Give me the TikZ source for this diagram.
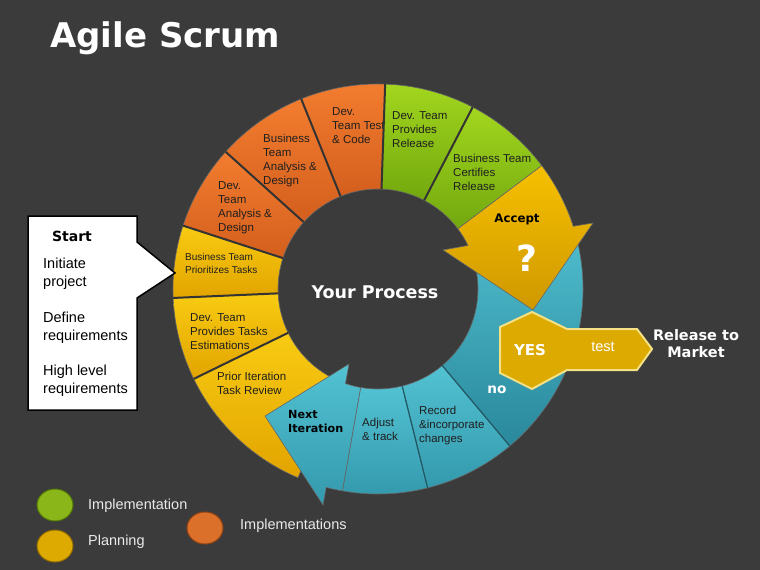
\documentclass[tikz,border=0pt]{standalone}
\usepackage{fontspec}
\setmainfont{Liberation Sans}
\newfontfamily\heavyfont{DejaVu Sans}
\usetikzlibrary{calc}

\definecolor{bgdark}{HTML}{3B3B3B}
\definecolor{orgtop}{HTML}{F27C2E}
\definecolor{orgbot}{HTML}{D45F1E}
\definecolor{grntop}{HTML}{A2D61E}
\definecolor{grnbot}{HTML}{72A80E}
\definecolor{yeltop}{HTML}{F8CB12}
\definecolor{yelbot}{HTML}{E2A400}
\definecolor{teltop}{HTML}{52C2D2}
\definecolor{telbot}{HTML}{3499AD}
\definecolor{teldark}{HTML}{2A889C}
\definecolor{telline}{HTML}{1E5A66}
\definecolor{acctop}{HTML}{F6C000}
\definecolor{accbot}{HTML}{CF9800}
\definecolor{yesfill}{HTML}{DCAA00}
\definecolor{yesedge}{HTML}{F4E085}
\definecolor{legwhite}{HTML}{EAEAEA}

\begin{document}
\begin{tikzpicture}[x=1pt, y=1pt,
      seg/.style={shade, draw=black!60, line width=0.6pt},
      sepline/.style={draw=black!80, line width=2pt},
      telsep/.style={draw=telline, line width=1.2pt},
      segtext/.style={anchor=north west, align=left, inner sep=0pt, text=black!88,
                      font=\fontsize{11.5}{14}\selectfont},
      heavy/.style 2 args={inner sep=0pt, align=center, font=\heavyfont\bfseries\fontsize{#1}{#2}\selectfont},
      boxtext/.style={anchor=north west, align=left, inner sep=0pt, text=black,
                      font=\fontsize{14.5}{18}\selectfont},
      legtext/.style={anchor=west, inner sep=0pt, text=legwhite, font=\fontsize{14.5}{17}\selectfont}
    ]
    \useasboundingbox (0,0) rectangle (760,-570);
    \fill[bgdark] (0,0) rectangle (760,-570);

    % Title
    \node[heavy={34}{40}, text=white, anchor=base west] (title) at (50,-47) {Agile Scrum};

    % Ring round the centre of the process
    \begin{scope}[shift={(378,-289)}]
      % teal part: no, record, adjust
      \foreach \a/\b/\ct/\cb in {22/-50/teltop/teldark, -50/-76/teltop/telbot, -76/-100/teltop/telbot}
        \path[seg, top color=\ct, bottom color=\cb]
          (\a:100) -- (\a:205) arc[start angle=\a, end angle=\b, radius=205]
          -- (\b:100) arc[start angle=\b, end angle=\a, radius=100] -- cycle;
      \foreach \a in {-50,-76}
        \draw[telsep] (\a:100) -- (\a:205);

      % planning (yellow) and analysis (orange)
      \foreach \a/\b/\ct/\cb in {162/182.5/yeltop/yelbot, 182.5/206/yeltop/yelbot, 206/247/yeltop/yelbot,
                                 138/162/orgtop/orgbot, 112/138/orgtop/orgbot, 88/112/orgtop/orgbot}
        \path[seg, top color=\ct, bottom color=\cb]
          (\a:100) -- (\a:205) arc[start angle=\a, end angle=\b, radius=205]
          -- (\b:100) arc[start angle=\b, end angle=\a, radius=100] -- cycle;
    \end{scope}

    % orange texts (under the green part)
    \node[segtext] (devana)  at (218,-181) {Dev.\\Team\\Analysis \&\\Design};
    \node[segtext] (busana)  at (263,-134) {Business\\Team\\Analysis \&\\Design};
    \node[segtext] (devtest) at (332,-107) {Dev.\\Team Test\\\& Code};

    \begin{scope}[shift={(378,-289)}]
      % release (green)
      \foreach \a/\b in {62.5/88, 37/62.5}
        \path[seg, top color=grntop, bottom color=grnbot]
          (\a:100) -- (\a:205) arc[start angle=\a, end angle=\b, radius=205]
          -- (\b:100) arc[start angle=\b, end angle=\a, radius=100] -- cycle;
      \foreach \a in {162,182.5,206,138,112,88,62.5}
        \draw[sepline] (\a:100) -- (\a:205);

      % next iteration arrow
      \path[seg, top color=teltop, bottom color=telbot]
        (-100:100) -- (-100:205) arc[start angle=-100, end angle=-104.65, radius=205]
        -- (-55,-216) -- (-113,-127) -- (-29,-75)
        -- (-109:100) arc[start angle=-109, end angle=-100, radius=100] -- cycle;

      % accept arrow
      \path[seg, top color=acctop, bottom color=accbot]
        (37:100) -- (37:205) arc[start angle=37, end angle=17.8, radius=205]
        -- (215,66) -- (155,-21) -- (65,39)
        -- (25.8:100) arc[start angle=25.8, end angle=37, radius=100] -- cycle;
    \end{scope}

    % YES / test arrow
    \path[fill=yesfill, draw=yesedge, line width=2pt, line join=miter]
      (532,-312) -- (567,-329) -- (637,-329) -- (652,-349) -- (637,-370)
      -- (567,-370) -- (532,-389) -- (500,-373) -- (500,-327) -- cycle;

    % texts in the ring
    \node[segtext] (devrel)  at (392,-111) {Dev. Team\\Provides\\Release};
    \node[segtext] (buscert) at (453,-154) {Business Team\\Certifies\\Release};
    \node[segtext, font=\fontsize{10}{13}\selectfont] (busprio) at (185,-253) {Business Team\\Prioritizes Tasks};
    \node[segtext] (devest)  at (190,-313) {Dev. Team\\Provides Tasks\\Estimations};
    \node[segtext] (prior)   at (217,-372) {Prior Iteration\\Task Review};
    \node[segtext] (adjust)  at (362,-418) {Adjust\\\& track};
    \node[segtext] (record)  at (419,-406) {Record\\\&incorporate\\changes};
    \node[heavy={11.2}{14}, anchor=north west, align=left, text=black] (nextit) at (288,-410) {Next\\Iteration};
    \node[heavy={11.8}{14}, text=black] (accept) at (517,-219) {Accept};
    \node[heavy={36}{40}, text=white] (quest) at (527,-258) {?};
    \node[heavy={17.5}{21}, text=white] (process) at (375,-292) {Your Process};
    \node[heavy={15}{18}, text=white] (yes) at (530,-350) {YES};
    \node[inner sep=0pt, text=white, font=\fontsize{14.5}{17}\selectfont] (test) at (603,-347) {test};
    \node[heavy={13.6}{16}, text=white] (no) at (497,-390) {no};
    \node[heavy={14.5}{17}, text=white] (market) at (696,-344) {Release to\\Market};

    % Start callout
    \path[fill=white, draw=black, line width=1.5pt, line join=miter]
      (28,-216) -- (137,-216) -- (137,-242) -- (175,-273) -- (137,-298)
      -- (137,-410) -- (28,-410) -- cycle;
    \node[heavy={14}{17}, text=black] (start) at (72,-236) {Start};
    \node[boxtext] (initiate) at (43,-258) {Initiate\\project};
    \node[boxtext] (define)   at (43,-312) {Define\\requirements};
    \node[boxtext] (highlvl)  at (43,-365) {High level\\requirements};

    % Legend
    \fill[grntop!85!black, draw=grnbot!70!black, line width=1pt] (55,-505) ellipse[x radius=18, y radius=16];
    \fill[yesfill, draw=accbot!70!black, line width=1pt] (55,-546) ellipse[x radius=18, y radius=16];
    \fill[orgtop!90!black, draw=orgbot!70!black, line width=1pt] (205,-528) ellipse[x radius=18, y radius=16];
    \node[legtext] (legimpl)  at (88,-506)  {Implementation};
    \node[legtext] (legplan)  at (88,-542)  {Planning};
    \node[legtext] (legimpls) at (240,-526) {Implementations};
  \end{tikzpicture}
\end{document}
